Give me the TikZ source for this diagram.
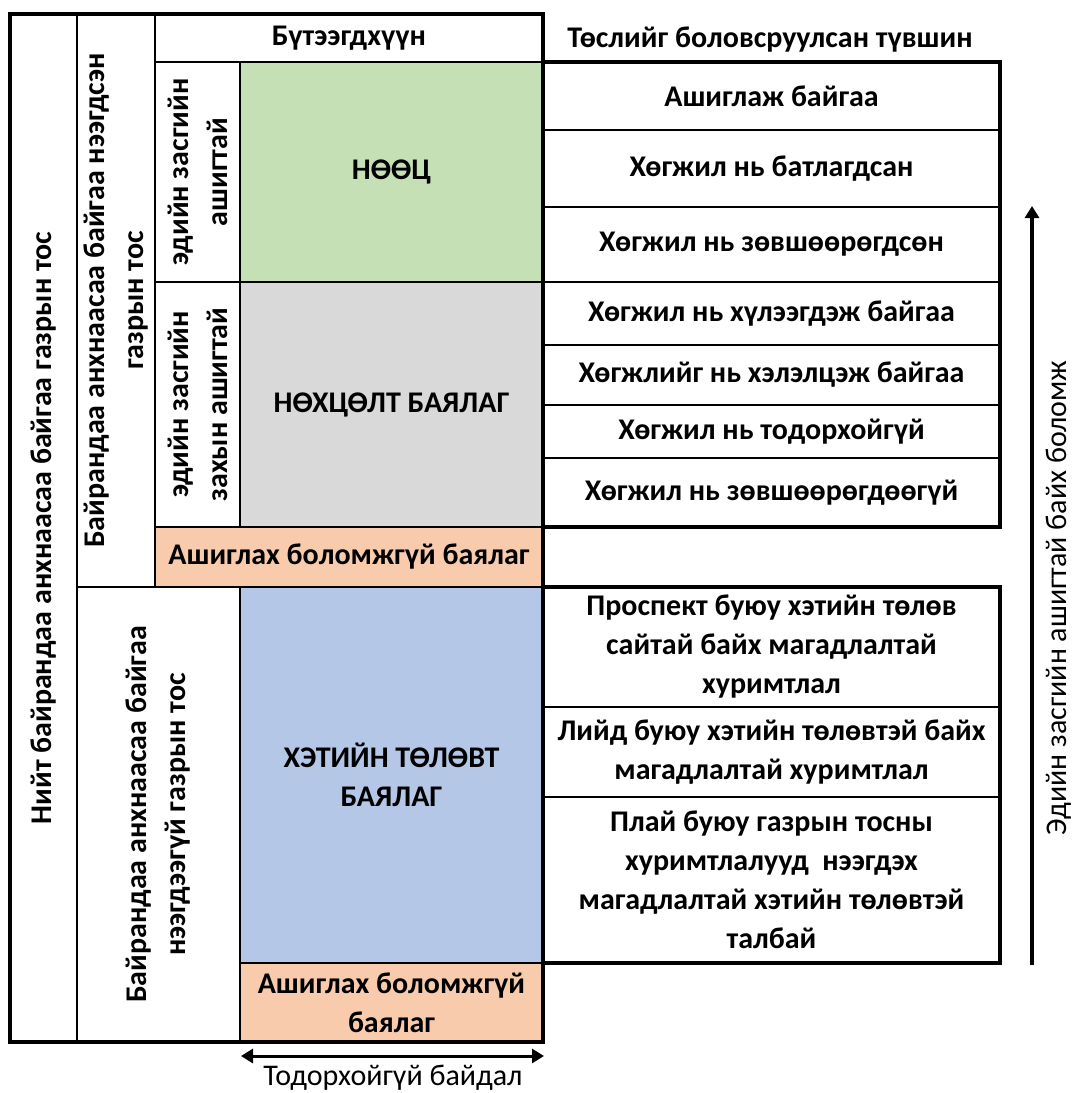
\documentclass[tikz,border=0pt]{standalone}
\usepackage{fontspec}
\setmainfont{Carlito}
\usepackage{tikz}
\usetikzlibrary{arrows.meta,positioning}
\definecolor{cellgreen}{HTML}{C5E0B4}
\definecolor{cellgrey}{HTML}{D9D9D9}
\definecolor{cellorange}{HTML}{F8CBAD}
\definecolor{cellblue}{HTML}{B4C7E7}
\newcommand{\cellfont}{\fontsize{30}{39}\selectfont\bfseries}
\newcommand{\notefont}{\fontsize{30}{39}\selectfont}

\begin{document}
\begin{tikzpicture}[
  x=1pt, y=-1pt,
  >={Triangle[length=12pt,width=14pt]},
  cell/.style={draw, line width=2pt, inner sep=0pt, outer sep=0pt, align=center, font=\cellfont},
  vcell/.style={cell, rotate=90},
  frame/.style={draw, line width=4pt},
]
  \useasboundingbox (0,0) rectangle (1073,1093);

  % left block
  \node[vcell, minimum width=1028pt, minimum height=67pt] (total) at (43.5,528) {Нийт байрандаа анхнаасаа байгаа газрын тос};
  \node[vcell, minimum width=573pt, minimum height=78pt] (discovered) at (116,300.5) {Байрандаа анхнаасаа байгаа нээгдсэн\\газрын тос};
  \node[vcell, minimum width=455pt, minimum height=163pt] (undiscovered) at (158.5,814.5) {Байрандаа анхнаасаа байгаа\\нээгдээгүй газрын тос};
  \node[cell, minimum width=388pt, minimum height=48pt] (product) at (349,38) {Бүтээгдхүүн};
  \node[vcell, minimum width=220pt, minimum height=85pt] (commercial) at (197.5,172) {эдийн засгийн\\ашигтай};
  \node[vcell, minimum width=245pt, minimum height=85pt] (subcommercial) at (197.5,404.5) {эдийн засгийн\\захын ашигтай};
  \node[cell, fill=cellgreen, minimum width=303pt, minimum height=220pt] (reserves) at (391.5,172) {НӨӨЦ};
  \node[cell, fill=cellgrey, minimum width=303pt, minimum height=245pt] (contingent) at (391.5,404.5) {НӨХЦӨЛТ БАЯЛАГ};
  \node[cell, fill=cellorange, minimum width=388pt, minimum height=60pt] (unrecA) at (349,557) {Ашиглах боломжгүй баялаг};
  \node[cell, fill=cellblue, minimum width=303pt, minimum height=376pt] (prospective) at (391.5,775) {ХЭТИЙН ТӨЛӨВТ\\БАЯЛАГ};
  \node[cell, fill=cellorange, minimum width=303pt, minimum height=79pt] (unrecB) at (391.5,1002.5) {Ашиглах боломжгүй\\баялаг};
  \draw[frame] (10,14) rectangle (543,1042);

  % right block
  \node[font=\cellfont] (maturity) at (770,40) {Төслийг боловсруулсан түвшин};
  \node[cell, minimum width=457pt, minimum height=68pt] (onprod) at (771.5,96) {Ашиглаж байгаа};
  \node[cell, minimum width=457pt, minimum height=77pt] (approved) at (771.5,168.5) {Хөгжил нь батлагдсан};
  \node[cell, minimum width=457pt, minimum height=75pt] (justified) at (771.5,244.5) {Хөгжил нь зөвшөөрөгдсөн};
  \node[cell, minimum width=457pt, minimum height=63pt] (pending) at (771.5,313.5) {Хөгжил нь хүлээгдэж байгаа};
  \node[cell, minimum width=457pt, minimum height=60pt] (onhold) at (771.5,375) {Хөгжлийг нь хэлэлцэж байгаа};
  \node[cell, minimum width=457pt, minimum height=53pt] (unclarified) at (771.5,431.5) {Хөгжил нь тодорхойгүй};
  \node[cell, minimum width=457pt, minimum height=69pt] (notviable) at (771.5,492.5) {Хөгжил нь зөвшөөрөгдөөгүй};
  \node[cell, minimum width=457pt, minimum height=120pt] (prospect) at (771.5,647) {Проспект буюу хэтийн төлөв\\сайтай байх магадлалтай\\хуримтлал};
  \node[cell, minimum width=457pt, minimum height=90pt] (lead) at (771.5,752) {Лийд буюу хэтийн төлөвтэй байх\\магадлалтай хуримтлал};
  \node[cell, minimum width=457pt, minimum height=166pt] (play) at (771.5,880) {Плай буюу газрын тосны\\хуримтлалууд\ \ нээгдэх\\магадлалтай хэтийн төлөвтэй\\талбай};
  \draw[frame] (onprod.north west) rectangle (notviable.south east);
  \draw[frame] (prospect.north west) rectangle (play.south east);

  % arrows
  \coordinate (chanceA) at (1032,965);
  \coordinate (chanceB) at (1032,206);
  \draw[->, line width=3.5pt] (chanceA) -- (chanceB);
  \node[rotate=90, anchor=base, font=\notefont, inner sep=0pt] (chance) at (1066,598) {Эдийн засгийн ашигтай байх боломж};
  \coordinate (rangeA) at (241,1056);
  \coordinate (rangeB) at (544,1056);
  \draw[<->, line width=3pt] (rangeA) -- (rangeB);
  \node[font=\notefont, anchor=base, inner sep=0pt] (range) at (393,1085) {Тодорхойгүй байдал};
\end{tikzpicture}
\end{document}
